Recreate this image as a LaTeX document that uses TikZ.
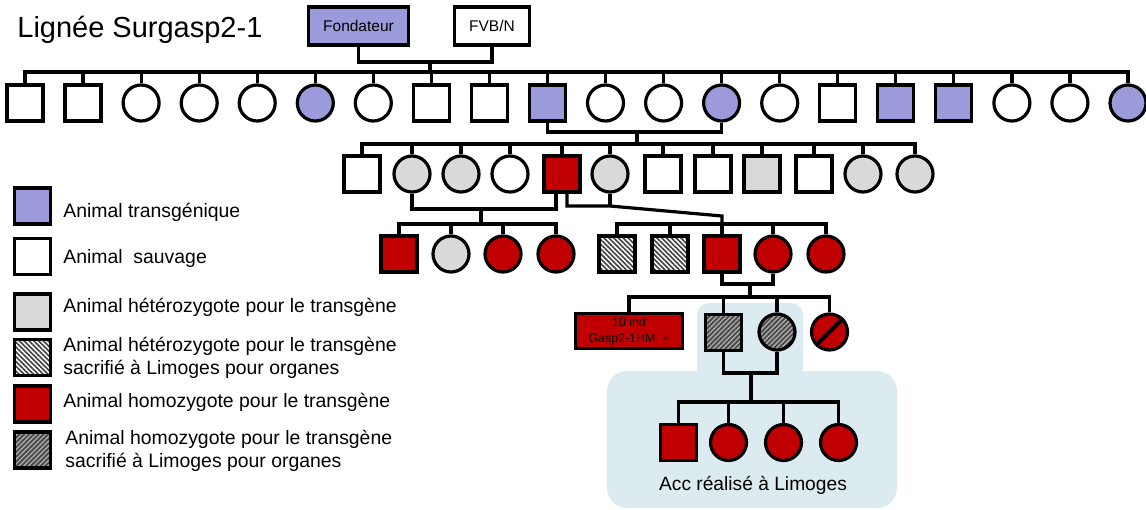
\documentclass[tikz,border=0pt]{standalone}
\usepackage{fontspec}
\setmainfont{Liberation Sans}
\usetikzlibrary{patterns.meta}
\definecolor{tgcol}{RGB}{155,155,220}
\definecolor{hetcol}{RGB}{217,217,217}
\definecolor{homcol}{RGB}{192,0,0}
\definecolor{acccol}{RGB}{219,235,240}

\begin{document}
\begin{tikzpicture}[x=0.5pt,y=-0.5pt,
  male/.style={draw,line width=1.6pt,minimum size=18pt,inner sep=0pt},
  female/.style={male,circle},
  tg/.style={fill=tgcol},
  het/.style={fill=hetcol},
  hom/.style={fill=homcol},
  hetsac/.style={preaction={fill=white},pattern={Lines[angle=-45,distance=1.7pt,line width=0.8pt]},pattern color=black!75},
  homsac/.style={preaction={fill=black!70},pattern={Lines[angle=45,distance=1.7pt,line width=0.6pt]},pattern color=black!30},
  link/.style={line width=1.6pt},
  lbl/.style={anchor=base west,inner sep=0pt,font=\fontsize{9.7pt}{11.5pt}\selectfont},
  lbltwo/.style={anchor=west,inner sep=0pt,align=left,font=\fontsize{9.7pt}{11.5pt}\selectfont}]
\useasboundingbox (0,0) rectangle (1146,509);
\fill[acccol,rounded corners=10pt] (607,371) rectangle (897,508);
\fill[acccol,rounded corners=6pt] (697,303) rectangle (803,382);

\node[anchor=base west,inner sep=0pt,font=\fontsize{14.5pt}{17pt}\selectfont] (title) at (17,37) {Lignée Surgasp2-1};
\node[male,tg,minimum width=50pt,minimum height=19pt,font=\fontsize{7.75pt}{9pt}\selectfont] (f) at (358.5,26) {Fondateur};
\node[male,minimum width=37.5pt,minimum height=19pt,font=\fontsize{7.75pt}{9pt}\selectfont] (v) at (492,26) {FVB/N};

\node[male] (a1) at (25,103) {};
\node[male] (a2) at (83,103) {};
\node[female] (a3) at (141.1,103) {};
\node[female] (a4) at (199.2,103) {};
\node[female] (a5) at (257.2,103) {};
\node[female,tg] (a6) at (315.3,103) {};
\node[female] (a7) at (373.3,103) {};
\node[male] (a8) at (431.4,103) {};
\node[male] (a9) at (489.4,103) {};
\node[male,tg] (a10) at (547.5,103) {};
\node[female] (a11) at (605.5,103) {};
\node[female] (a12) at (663.6,103) {};
\node[female,tg] (a13) at (721.6,103) {};
\node[female] (a14) at (779.7,103) {};
\node[male] (a15) at (837.7,103) {};
\node[male,tg] (a16) at (895.8,103) {};
\node[male,tg] (a17) at (953.8,103) {};
\node[female] (a18) at (1011.9,103) {};
\node[female] (a19) at (1069.9,103) {};
\node[female,tg] (a20) at (1128,103) {};

\node[male] (b1) at (362,174) {};
\node[female,het] (b2) at (412,174) {};
\node[female,het] (b3) at (461,174) {};
\node[female] (b4) at (510,174) {};
\node[male,hom] (b5) at (562,174) {};
\node[female,het] (b6) at (610,174) {};
\node[male] (b7) at (663,174) {};
\node[male] (b8) at (713,174) {};
\node[male,het] (b9) at (762,174) {};
\node[male] (b10) at (814,174) {};
\node[female,het] (b11) at (863,174) {};
\node[female,het] (b12) at (915,174) {};

\node[male,hom] (c1) at (399,254) {};
\node[female,het] (c2) at (451,254) {};
\node[female,hom] (c3) at (503,254) {};
\node[female,hom] (c4) at (556,254) {};
\node[male,hetsac] (c5) at (617,254) {};
\node[male,hetsac] (c6) at (670,254) {};
\node[male,hom] (c7) at (722,254) {};
\node[female,hom] (c8) at (773,254) {};
\node[female,hom] (c9) at (826,254) {};

\node[male,hom,minimum width=53.5pt,minimum height=17.5pt,align=center,font=\fontsize{6.2pt}{8pt}\selectfont,text=black] (d1) at (629,331) {10 ind\\Gasp2-1HM\ \ +};
\node[male,homsac] (d2) at (723.5,332.5) {};
\node[female,homsac] (d3) at (777,332) {};
\node[female,hom] (d4) at (829.5,332) {};
\draw[line width=2pt] (d4.225) -- (d4.45);

\node[male,hom] (e1) at (678.5,442.5) {};
\node[female,hom] (e2) at (728.5,442.5) {};
\node[female,hom] (e3) at (783.5,442.5) {};
\node[female,hom] (e4) at (838.5,442.5) {};
\node[anchor=base,inner sep=0pt,font=\fontsize{9.6pt}{11.5pt}\selectfont] (acc) at (753,490) {Acc réalisé à Limoges};

\coordinate (m0) at (430,62);
\coordinate (s0) at (430,72);
\coordinate (m1) at (637,132);
\coordinate (s1) at (637,144);
\coordinate (m2) at (481,209);
\coordinate (s2) at (481,224);
\coordinate (m3) at (610,206);
\coordinate (k3) at (722,216);
\coordinate (s3) at (722,224);
\coordinate (m4) at (750,284);
\coordinate (s4) at (750,297);
\coordinate (m5) at (751,373);
\coordinate (s5) at (751,402);

\draw[link] (f.south) |- (m0) -| (v.south);
\draw[link] (m0) -- (s0);
\draw[link] (a1.north) |- (s0) -| (a20.north);
\foreach \n in {2,...,19} \draw[link] (a\n.north) -- (a\n.north |- s0);

\draw[link] (a10.south) |- (m1) -| (a13.south);
\draw[link] (m1) -- (s1);
\draw[link] (b1.north) |- (s1) -| (b12.north);
\foreach \n in {2,...,11} \draw[link] (b\n.north) -- (b\n.north |- s1);

\draw[link] (b2.south) |- (m2) -| ([xshift=-3pt]b5.south);
\draw[link] (m2) -- (s2);
\draw[link] (c1.north) |- (s2) -| (c4.north);
\foreach \n in {2,3} \draw[link] (c\n.north) -- (c\n.north |- s2);

\draw[link] ([xshift=2.5pt]b5.south) |- (m3) -- (k3) -- (s3);
\draw[link] (b6.south) -- (m3);
\draw[link] (c5.north) |- (s3) -| (c9.north);
\foreach \n in {6,7,8} \draw[link] (c\n.north) -- (c\n.north |- s3);

\draw[link] (c7.south) |- (m4) -| (c8.south);
\draw[link] (m4) -- (s4);
\draw[link] (d1.north) |- (s4) -| (d4.north);
\foreach \n in {2,3} \draw[link] (d\n.north) -- (d\n.north |- s4);

\draw[link] (d2.south) |- (m5) -| (d3.south);
\draw[link] (m5) -- (s5);
\draw[link] (e1.north) |- (s5) -| (e4.north);
\foreach \n in {2,3} \draw[link] (e\n.north) -- (e\n.north |- s5);

\node[male,tg] (l1) at (32.5,206) {};
\node[male] (l2) at (32.5,256.5) {};
\node[male,het] (l3) at (32.5,312) {};
\node[male,hetsac] (l4) at (32.5,357.5) {};
\node[male,hom] (l5) at (32.5,404) {};
\node[male,homsac] (l6) at (32.5,450) {};
\node[lbl] (t1) at (63,217) {Animal transgénique};
\node[lbl] (t2) at (63,263) {Animal\ \ sauvage};
\node[lbl] (t3) at (63,312) {Animal hétérozygote pour le transgène};
\node[lbltwo] (t4) at (63,357.5) {Animal hétérozygote pour le transgène\\sacrifié à Limoges pour organes};
\node[lbl] (t5) at (63,407) {Animal homozygote pour le transgène};
\node[lbltwo] (t6) at (65,451) {Animal homozygote pour le transgène\\sacrifié à Limoges pour organes};
\end{tikzpicture}
\end{document}
